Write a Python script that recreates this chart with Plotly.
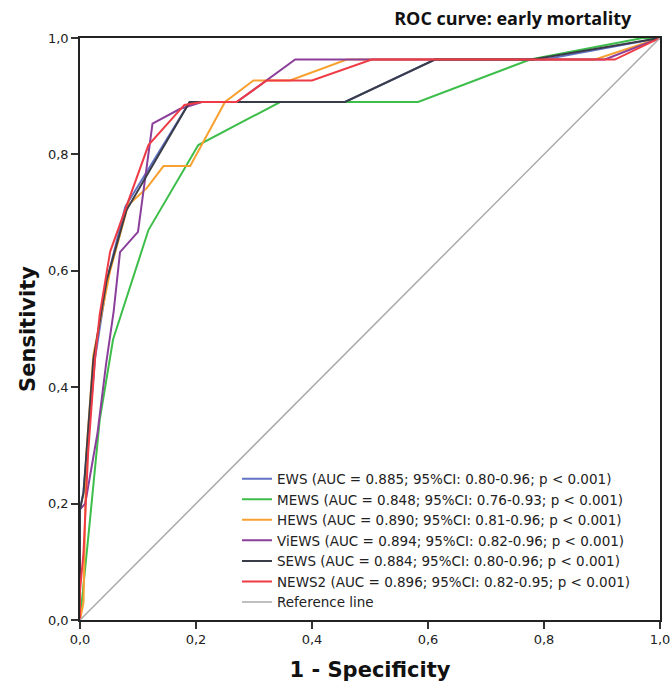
import plotly.graph_objects as go

names = ["EWS", "MEWS", "HEWS", "ViEWS", "SEWS", "NEWS2"]
aucs = ["0.885", "0.848", "0.890", "0.894", "0.884", "0.896"]
cis = ["0.80-0.96", "0.76-0.93", "0.81-0.96", "0.82-0.96", "0.80-0.96", "0.82-0.95"]
colors = ["#6272C4", "#3DBE4A", "#F8A030", "#8B3F9B", "#3A3D48", "#EE3B45"]

ews_x = [0, 0, 0.006, 0.026, 0.048, 0.078, 0.189, 0.457, 0.612, 0.80, 1]
ews_y = [0, 0.19, 0.22, 0.45, 0.59, 0.71, 0.89, 0.89, 0.963, 0.963, 1]
mews_x = [0, 0.006, 0.017, 0.034, 0.057, 0.118, 0.204, 0.345, 0.583, 0.776, 0.97, 1]
mews_y = [0, 0.057, 0.17, 0.344, 0.482, 0.67, 0.816, 0.89, 0.89, 0.963, 1.0, 1]
hews_x = [0, 0.006, 0.011, 0.023, 0.052, 0.083, 0.115, 0.144, 0.19, 0.25, 0.299, 0.362, 0.46, 0.888, 1]
hews_y = [0, 0.03, 0.286, 0.455, 0.60, 0.713, 0.742, 0.78, 0.78, 0.89, 0.927, 0.927, 0.963, 0.963, 1]
views_x = [0, 0, 0.009, 0.03, 0.045, 0.058, 0.069, 0.1, 0.125, 0.172, 0.21, 0.27, 0.371, 0.905, 1]
views_y = [0, 0.19, 0.2, 0.32, 0.44, 0.53, 0.632, 0.667, 0.853, 0.878, 0.89, 0.89, 0.963, 0.963, 1]
sews_x = [0, 0, 0.006, 0.023, 0.046, 0.08, 0.189, 0.457, 0.612, 0.78, 1]
sews_y = [0, 0.19, 0.218, 0.447, 0.584, 0.704, 0.89, 0.89, 0.963, 0.963, 1]
news2_x = [0, 0, 0.006, 0.014, 0.026, 0.034, 0.052, 0.118, 0.18, 0.21, 0.27, 0.322, 0.40, 0.503, 0.922, 1]
news2_y = [0, 0.05, 0.115, 0.287, 0.45, 0.525, 0.633, 0.816, 0.885, 0.89, 0.89, 0.927, 0.927, 0.963, 0.963, 1]
ref_x = [0, 1]
ref_y = [0, 1]

xs = [ews_x, mews_x, hews_x, views_x, sews_x, news2_x]
ys = [ews_y, mews_y, hews_y, views_y, sews_y, news2_y]

fig = go.Figure()
for n, a, c, col, x, y in zip(names, aucs, cis, colors, xs, ys):
    fig.add_trace(go.Scatter(
        x=x, y=y, mode="lines",
        name=f"{n} (AUC = {a}; 95%CI: {c}; p < 0.001)",
        line=dict(color=col, width=2),
    ))
fig.add_trace(go.Scatter(x=ref_x, y=ref_y, mode="lines", name="Reference line",
                         line=dict(color="#AAAAAA", width=1.5)))

title_font = dict(family="DejaVu Sans", size=21, color="#111111")
axis_common = dict(
    range=[0, 1], dtick=0.2, tickformat=".1f",
    showgrid=False, zeroline=False, automargin=False,
    showline=True, linecolor="#222222", linewidth=1.5, mirror=True,
    ticks="outside", ticklen=7, tickwidth=1.5, tickcolor="#333333",
    tickfont=dict(family="DejaVu Sans", size=13, color="#222222"),
)

fig.update_layout(
    width=672, height=684,
    margin=dict(l=80, r=12, t=38, b=64, autoexpand=False),
    paper_bgcolor="white", plot_bgcolor="white",
    separators=", ",
    title=dict(text="<b>ROC curve: early mortality</b>", x=0.763, xanchor="center",
               y=0.972, yanchor="middle", automargin=False,
               font=dict(family="Open Sans", size=18, color="#111111")),
    xaxis=dict(axis_common, title=dict(text="<b>1 - Specificity</b>", standoff=16,
               font=title_font)),
    yaxis=dict(axis_common, title=dict(text="<b>Sensitivity</b>", standoff=7,
               font=title_font)),
    legend=dict(x=0.2707, y=0.269, xanchor="left", yanchor="top",
                bgcolor="rgba(255,255,255,0)", borderwidth=0,
                font=dict(family="DejaVu Sans", size=13.5, color="#222222"),
                tracegroupgap=0),
    showlegend=True,
)

fig.write_html("out.html")
